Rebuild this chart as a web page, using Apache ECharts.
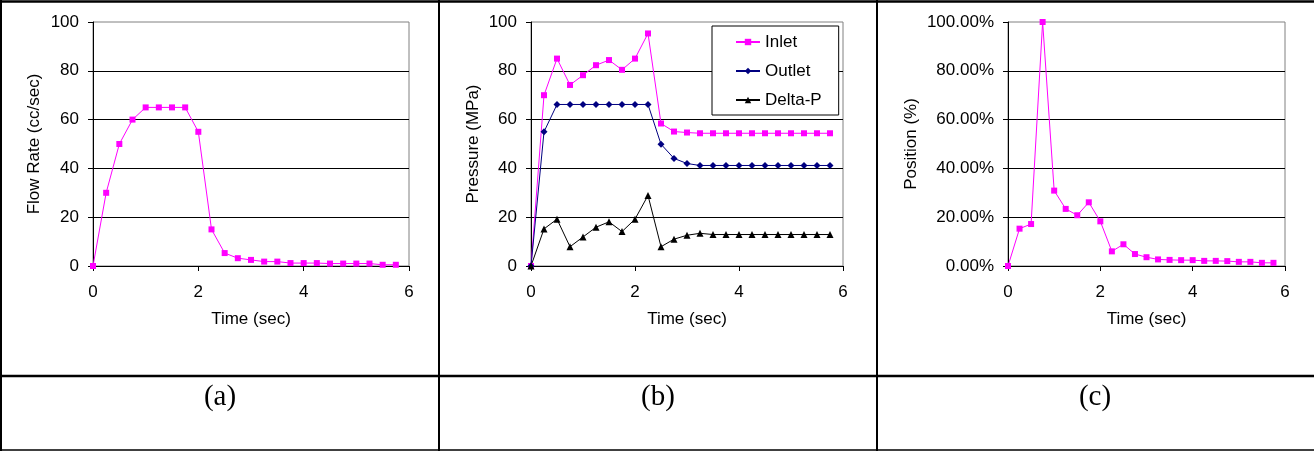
<!DOCTYPE html>
<html>
<head>
<meta charset="utf-8">
<script src="https://cdn.jsdelivr.net/npm/echarts@6/dist/echarts.min.js"></script>
<style>
  html, body { margin: 0; padding: 0; background: #fff; }
  #chart { width: 1314px; height: 451px; }
</style>
</head>
<body>
<div id="chart"></div>
<script>
// time axis (sec), shared by all three panels
var times = [0, 0.25, 0.5, 0.75, 1, 1.25, 1.5, 1.75, 2, 2.25, 2.5, 2.75,
             3, 3.25, 3.5, 3.75, 4, 4.25, 4.5, 4.75, 5, 5.25, 5.5, 5.75];

// (a) flow rate, cc/sec
var flowRate = [0, 30, 50, 60, 65, 65, 65, 65, 55, 15, 5.3, 3.2,
                2.5, 1.8, 1.8, 1.2, 1.2, 1.2, 1.0, 1.0, 1.0, 1.0, 0.5, 0.5];

// (b) pressure, MPa
var inlet = [0, 70, 85, 74.2, 78.2, 82.3, 84.4, 80.4, 85, 95.3, 58.4, 55.1,
             54.7, 54.4, 54.4, 54.4, 54.4, 54.4, 54.4, 54.4, 54.4, 54.4, 54.4, 54.4];
var outlet = [0, 55, 66.2, 66.2, 66.2, 66.2, 66.2, 66.2, 66.2, 66.2, 49.9, 44.1,
              42, 41.2, 41.2, 41.2, 41.2, 41.2, 41.2, 41.2, 41.2, 41.2, 41.2, 41.2];
var deltaP = [0, 15.2, 19.2, 7.9, 11.9, 15.9, 18.1, 14.1, 19.2, 28.9, 7.9, 11,
              12.6, 13.4, 12.9, 12.9, 12.9, 12.9, 12.9, 12.9, 12.9, 12.9, 12.9, 12.9];

// (c) position, %
var position = [0, 15.3, 17.2, 100, 30.9, 23.4, 20.8, 26.1, 18.3, 6.0, 8.9, 4.9,
                3.6, 2.7, 2.5, 2.4, 2.4, 2.1, 2.1, 2.0, 1.7, 1.7, 1.3, 1.3];

var panelLabels = ["(a)", "(b)", "(c)"];
var yNames = ["Flow Rate (cc/sec)", "Pressure (MPa)", "Position (%)"];
var xName = "Time (sec)";

var FONT = "Liberation Sans, Arial, sans-serif";

// pair up time and value
function pairs(vals) {
  var out = [];
  for (var i = 0; i < vals.length; i++) {
    out.push([times[i], vals[i]]);
  }
  return out;
}

function makeX(idx) {
  return {
    type: "value", gridIndex: idx, min: 0, max: 6, interval: 2,
    name: xName, nameLocation: "middle", nameGap: 45,
    nameTextStyle: { color: "#000", fontFamily: FONT, fontSize: 17 },
    axisLine: { lineStyle: { color: "#000", width: 1 } },
    axisTick: { show: true, length: 5, lineStyle: { color: "#000" } },
    axisLabel: { color: "#000", fontFamily: FONT, fontSize: 17, margin: 18 },
    splitLine: { show: false }
  };
}

function makeY(idx, gap, fmt) {
  return {
    type: "value", gridIndex: idx, min: 0, max: 100, interval: 20,
    name: yNames[idx], nameLocation: "middle", nameGap: gap,
    nameTextStyle: { color: "#000", fontFamily: FONT, fontSize: 17 },
    axisLine: { show: true, lineStyle: { color: "#000", width: 1 } },
    axisTick: { show: true, length: 5, lineStyle: { color: "#000" } },
    axisLabel: { color: "#000", fontFamily: FONT, fontSize: 17, margin: 14, formatter: fmt },
    splitLine: { show: true, showMaxLine: false, lineStyle: { color: "#000", width: 1 } }
  };
}

function lineSeries(name, vals, idx, color, symbol, size) {
  return {
    name: name, type: "line", xAxisIndex: idx, yAxisIndex: idx,
    data: pairs(vals),
    symbol: symbol, symbolSize: size, showSymbol: true,
    lineStyle: { color: color, width: 1 },
    itemStyle: { color: color },
    z: 3
  };
}

var gridBase = { top: 22, height: 244, show: true, borderColor: "#808080", borderWidth: 1, backgroundColor: "#fff" };

var chart = echarts.init(document.getElementById("chart"));
var option = {
  animation: false,
  backgroundColor: "#fff",
  grid: [
    Object.assign({ left: 93, width: 316 }, gridBase),
    Object.assign({ left: 531, width: 312 }, gridBase),
    Object.assign({ left: 1008, width: 277 }, gridBase)
  ],
  xAxis: [makeX(0), makeX(1), makeX(2)],
  yAxis: [
    makeY(0, 50),
    makeY(1, 49),
    makeY(2, 88, function (v) { return v.toFixed(2) + "%"; })
  ],
  legend: {
    data: ["Inlet", "Outlet", "Delta-P"],
    orient: "vertical",
    left: 712, top: 26,
    padding: [6, 17, 5, 23],
    itemWidth: 24, itemHeight: 8, itemGap: 9,
    backgroundColor: "#fff",
    borderColor: "#000", borderWidth: 1, borderRadius: 0,
    textStyle: { color: "#000", fontFamily: FONT, fontSize: 17, lineHeight: 20 }
  },
  series: [
    lineSeries("Flow", flowRate, 0, "#ff00ff", "rect", 6),
    lineSeries("Inlet", inlet, 1, "#ff00ff", "rect", 6),
    lineSeries("Outlet", outlet, 1, "#000080", "diamond", 7),
    lineSeries("Delta-P", deltaP, 1, "#000000", "triangle", 7),
    lineSeries("Position", position, 2, "#ff00ff", "rect", 6)
  ],
  graphic: [
    // table frame
    { type: "line", shape: { x1: 0, y1: 1.5, x2: 1314, y2: 1.5 }, style: { stroke: "#000", lineWidth: 2.5 } },
    { type: "line", shape: { x1: 1, y1: 0, x2: 1, y2: 451 }, style: { stroke: "#000", lineWidth: 2 } },
    { type: "line", shape: { x1: 439, y1: 0, x2: 439, y2: 451 }, style: { stroke: "#000", lineWidth: 2 } },
    { type: "line", shape: { x1: 877, y1: 0, x2: 877, y2: 451 }, style: { stroke: "#000", lineWidth: 2 } },
    { type: "line", shape: { x1: 0, y1: 376, x2: 1314, y2: 376 }, style: { stroke: "#000", lineWidth: 2.5 } },
    { type: "line", shape: { x1: 0, y1: 450, x2: 1314, y2: 450 }, style: { stroke: "#000", lineWidth: 1.5 } },
    // panel captions
    { type: "text", x: 220, y: 397, style: { text: panelLabels[0], fill: "#000", font: "29px 'Liberation Serif', 'Times New Roman', serif", align: "center", verticalAlign: "middle" } },
    { type: "text", x: 658, y: 397, style: { text: panelLabels[1], fill: "#000", font: "29px 'Liberation Serif', 'Times New Roman', serif", align: "center", verticalAlign: "middle" } },
    { type: "text", x: 1095, y: 397, style: { text: panelLabels[2], fill: "#000", font: "29px 'Liberation Serif', 'Times New Roman', serif", align: "center", verticalAlign: "middle" } }
  ]
};
chart.setOption(option);
</script>
</body>
</html>
